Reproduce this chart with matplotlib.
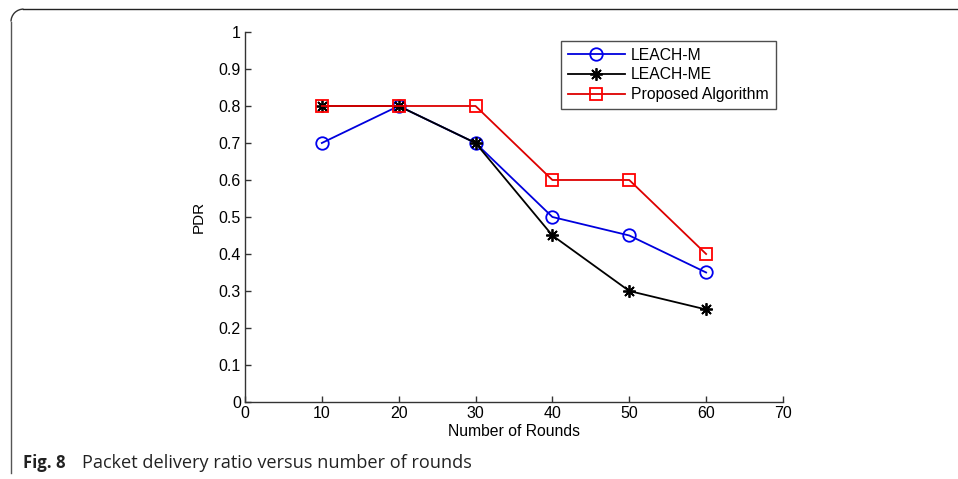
import matplotlib
matplotlib.use("Agg")
import matplotlib.pyplot as plt
from matplotlib.patches import Arc
from matplotlib.lines import Line2D

rounds = [10, 20, 30, 40, 50, 60]
leach_m = [0.70, 0.80, 0.70, 0.50, 0.45, 0.35]
leach_me = [0.80, 0.80, 0.70, 0.45, 0.30, 0.25]
proposed = [0.80, 0.80, 0.80, 0.60, 0.60, 0.40]
labels = ["LEACH-M", "LEACH-ME", "Proposed Algorithm"]
xticks = [0, 10, 20, 30, 40, 50, 60, 70]
yticks = [0, 0.1, 0.2, 0.3, 0.4, 0.5, 0.6, 0.7, 0.8, 0.9, 1]
ytick_labels = ["0", "0.1", "0.2", "0.3", "0.4", "0.5", "0.6", "0.7", "0.8", "0.9", "1"]

plt.rcParams['font.family'] = ['Liberation Sans', 'DejaVu Sans']

fig = plt.figure(figsize=(9.58, 4.79), dpi=100)

# figure frame: top and left edges with rounded corners
fig.add_artist(Line2D([0.0245, 1.0], [0.981, 0.981], transform=fig.transFigure,
                      color='#222222', lw=1.0))
fig.add_artist(Line2D([0.0115, 0.0115], [0.012, 0.955], transform=fig.transFigure,
                      color='#555555', lw=1.0))
fig.add_artist(Arc((0.0245, 0.955), 0.026, 0.052, theta1=90, theta2=180,
                   transform=fig.transFigure, color='#333333', lw=1.0))

ax = fig.add_axes([0.2557, 0.1608, 0.5616, 0.7724])
ax.plot(rounds, leach_m, color='#0000dd', lw=1.3, marker='o', markersize=9,
        markerfacecolor='none', markeredgecolor='#0000ee', markeredgewidth=1.3,
        label=labels[0])
ax.plot(rounds, leach_me, color='black', lw=1.3, marker=(8, 2, 0), markersize=9,
        markeredgewidth=1.3, label=labels[1])
ax.plot(rounds, proposed, color='#dd0000', lw=1.3, marker='s', markersize=9,
        markerfacecolor='none', markeredgecolor='#ff0000', markeredgewidth=1.3,
        label=labels[2])
ax.set_xlim(0, 70)
ax.set_ylim(0, 1)
ax.set_xticks(xticks)
ax.set_yticks(yticks)
ax.set_yticklabels(ytick_labels)
for s in ['top', 'right']:
    ax.spines[s].set_visible(False)
for s in ['left', 'bottom']:
    ax.spines[s].set_color('#333333')
    ax.spines[s].set_linewidth(1.0)
ax.tick_params(direction='in', length=4, width=1.0, color='#333333',
               labelsize=11.5, pad=3)
ax.set_xlabel("Number of Rounds", fontsize=11.3, labelpad=2)
ax.set_ylabel("PDR", fontsize=11, labelpad=9)

leg = ax.legend(loc='upper right', bbox_to_anchor=(0.992, 0.985), fontsize=11.3,
                frameon=True, fancybox=False, edgecolor='#222222',
                handlelength=3.6, borderpad=0.45, labelspacing=0.3,
                handletextpad=0.4, borderaxespad=0.2)
leg.get_frame().set_linewidth(1.0)

fig.text(0.024, 0.022, "Fig. 8", fontsize=12, fontweight='bold',
         family=['Open Sans', 'DejaVu Sans'], color='#222222')
fig.text(0.0856, 0.022, "Packet delivery ratio versus number of rounds", fontsize=13.1,
         family=['Open Sans', 'DejaVu Sans'], color='#222222')

fig.savefig("out.png", dpi=100)
